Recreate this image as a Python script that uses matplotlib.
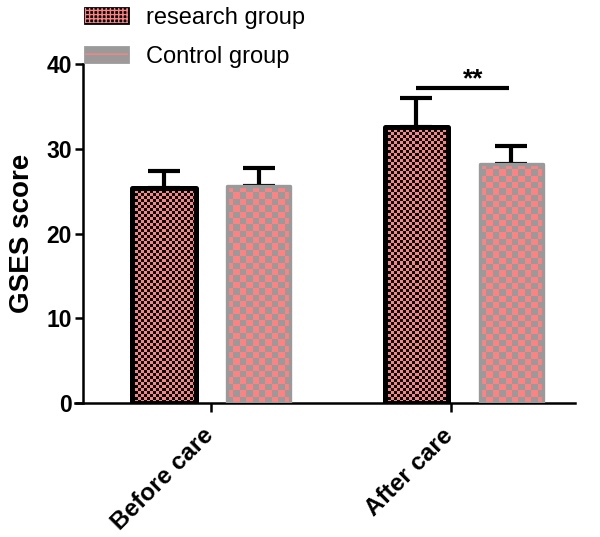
import numpy as np
import matplotlib
matplotlib.use("Agg")
import matplotlib.pyplot as plt
import matplotlib.transforms as mtransforms
from matplotlib.colors import ListedColormap
from matplotlib.patches import Patch
from matplotlib.legend_handler import HandlerTuple

plt.rcParams['font.family'] = ['Liberation Sans', 'DejaVu Sans']

categories = ["Before care", "After care"]
series_names = ["research group", "Control group"]
research_mean = [25.4, 32.6]
research_err = [2.0, 3.4]
control_mean = [25.6, 28.2]
control_err = [2.1, 2.1]
sig_label = "**"
sig_y = 37.2
y_ticks = [0, 10, 20, 30, 40]

PINK = '#ff8282'
GRAY = '#9a9a9a'

fig = plt.figure(figsize=(6.0, 5.37), dpi=100)
ax = fig.add_axes([0.1383, 0.2495, 0.82, 0.6313])
ax.set_xlim(-0.509, 1.44)
ax.set_ylim(0, 40)

x = np.arange(len(categories))
off = 0.188
w = 0.25

def checker(bar, c_bg, c_fg, cell_px, z):
    x0, y0 = bar.get_x(), bar.get_y()
    bw, bh = bar.get_width(), bar.get_height()
    p0 = ax.transData.transform((x0, y0))
    p1 = ax.transData.transform((x0 + bw, y0 + bh))
    nx = max(1, int(round((p1[0] - p0[0]) / cell_px)))
    ny = max(1, int(round((p1[1] - p0[1]) / cell_px)))
    ii, jj = np.indices((ny, nx))
    arr = ((ii + jj) % 2).astype(float)
    im = ax.imshow(arr, extent=[x0, x0 + bw, y0, y0 + bh], origin='lower',
                   cmap=ListedColormap([c_bg, c_fg]), vmin=0, vmax=1,
                   interpolation='nearest', aspect='auto', zorder=z)
    im.set_clip_path(bar)

bars_r = ax.bar(x - off, research_mean, w, facecolor='none', edgecolor='black',
                linewidth=3.6, zorder=3, joinstyle='round')
bars_c = ax.bar(x + off, control_mean, w, facecolor='none', edgecolor=GRAY,
                linewidth=2.4, zorder=3, joinstyle='round')
for b in bars_r:
    checker(b, 'black', PINK, 3.0, 2)
for b in bars_c:
    checker(b, GRAY, PINK, 6.3, 2)

ax.errorbar(x - off, research_mean, yerr=[np.zeros(2), research_err], fmt='none',
            ecolor='black', elinewidth=3, capsize=11.5, capthick=3, zorder=1)
ax.errorbar(x + off, control_mean, yerr=[np.zeros(2), control_err], fmt='none',
            ecolor='black', elinewidth=3, capsize=11.5, capthick=3, zorder=1)
ax.set_xlim(-0.509, 1.44)
ax.set_ylim(0, 40)

# significance
ax.plot([x[1] - off, x[1] + off - 0.01], [sig_y, sig_y], color='black', lw=3,
        solid_capstyle='butt', zorder=4)
ax.text(x[1] + 0.035, sig_y - 0.4, sig_label, ha='center', va='bottom',
        fontsize=19, fontweight='bold', zorder=4)

for s in ['top', 'right']:
    ax.spines[s].set_visible(False)
for s in ['left', 'bottom']:
    ax.spines[s].set_linewidth(1.8)
ax.spines['bottom'].set_bounds(-0.54, 1.44)
ax.spines['left'].set_bounds(0, 40)

ax.set_yticks(y_ticks)
ax.set_yticklabels([str(v) for v in y_ticks], fontsize=16.5, fontweight='bold')
ax.tick_params(axis='y', direction='out', length=6, width=1.8, pad=2)
ax.set_xticks([x[0], x[1] - 0.05])
ax.set_xticklabels(categories, rotation=45, ha='right', va='top',
                   rotation_mode='anchor', fontsize=17.5, fontweight='bold')
ax.tick_params(axis='x', direction='out', length=6.5, width=1.8, pad=7)
shift = mtransforms.ScaledTranslation(-10 / 100, -2 / 100, fig.dpi_scale_trans)
for lab in ax.get_xticklabels():
    lab.set_transform(lab.get_transform() + shift)
ax.set_ylabel("GSES score", fontsize=20, fontweight='bold', labelpad=8)

h_r = (Patch(facecolor='black', edgecolor='black', linewidth=2),
       Patch(facecolor='none', edgecolor=PINK, hatch='++++', linewidth=0))
h_c = (Patch(facecolor=GRAY, edgecolor=GRAY, linewidth=2),
       Patch(facecolor='none', edgecolor=PINK, hatch='--', linewidth=0))
fig.legend([h_r, h_c], series_names, handler_map={tuple: HandlerTuple(ndivide=1)},
           loc='upper left', bbox_to_anchor=(0.107, 1.026), frameon=False,
           fontsize=17, handlelength=1.8, handleheight=0.6, handletextpad=0.75,
           labelspacing=0.7)

fig.savefig('out.png', dpi=100)
